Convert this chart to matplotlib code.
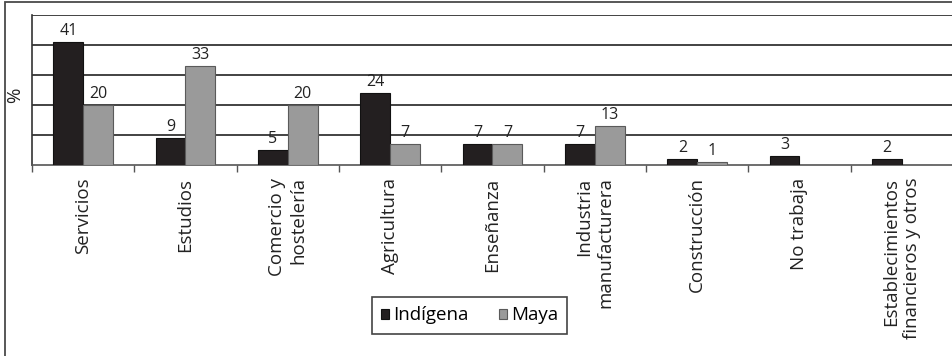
import matplotlib
matplotlib.use("Agg")
import matplotlib.pyplot as plt
from matplotlib.patches import Rectangle
import numpy as np

# Datos (%)
categorias = ["Servicios", "Estudios", "Comercio y\nhostelería", "Agricultura",
              "Enseñanza", "Industria\nmanufacturera", "Construcción",
              "No trabaja", "Establecimientos\nfinancieros y otros"]
indigena = [41, 9, 5, 24, 7, 7, 2, 3, 2]
maya = [20, 33, 20, 7, 7, 13, 1, 0, 0]

plt.rcParams['font.family'] = ['Open Sans', 'DejaVu Sans']

W, H = 953, 356
fig = plt.figure(figsize=(W / 100, H / 100), dpi=100)
fig.patch.set_facecolor('white')

# marco exterior
fig.patches.append(Rectangle((4.5 / W, -0.1), 1.2, 1.1 - 2 / H,
                             transform=fig.transFigure, fill=False,
                             edgecolor='#4a4a4a', linewidth=1.3, clip_on=False))

ax = fig.add_axes([32 / W, 1 - 165 / H, 921 / W, 150 / H])

x = np.arange(len(categorias))
w = 0.29
b1 = ax.bar(x - w / 2, indigena, w, color='#231f20', edgecolor='#111111',
            linewidth=0.8, label='Indígena', zorder=3)
b2 = ax.bar(x + w / 2, maya, w, color='#9a9a9a', edgecolor='#5a5a5a',
            linewidth=0.8, label='Maya', zorder=3)

ax.bar_label(b1, labels=[str(v) for v in indigena], padding=2, fontsize=11.5, color='#222222')
ax.bar_label(b2, labels=[str(v) if v > 0 else '' for v in maya], padding=2,
             fontsize=11.5, color='#222222')

ax.set_xlim(-0.5, len(categorias) - 0.5)
ax.set_ylim(0, 50)
ax.set_yticks([10, 20, 30, 40, 50])
ax.set_yticklabels([])
ax.tick_params(axis='y', length=0)
ax.yaxis.grid(True, color='#222222', linewidth=1.2)
ax.set_axisbelow(True)

ax.set_xticks(x)
ax.set_xticklabels(categorias, rotation=90, fontsize=13.5, va='top', ha='center',
                   multialignment='right', color='#222222')
ax.set_xticks(np.arange(len(categorias) + 1) - 0.5, minor=True)
ax.tick_params(axis='x', which='major', length=0, pad=9)
ax.tick_params(axis='x', which='minor', length=5, width=1, color='#555555', direction='out')

for s in ['top', 'right']:
    ax.spines[s].set_visible(False)
ax.spines['left'].set_color('#333333')
ax.spines['left'].set_linewidth(1.2)
ax.spines['bottom'].set_color('#555555')
ax.spines['bottom'].set_linewidth(1.2)

fig.text(15 / W, 1 - 95 / H, '%', rotation=90, ha='center', va='center',
         fontsize=13.5, color='#222222')

leg = fig.legend(handles=[b1, b2], loc='center',
                 bbox_to_anchor=(469.5 / W, 1 - 315.5 / H), ncol=2,
                 fontsize=13.5, frameon=True, fancybox=False, framealpha=1,
                 edgecolor='#444444', handlelength=0.45, handleheight=0.45,
                 handletextpad=0.2, columnspacing=1.6, borderpad=0.5)
leg.get_frame().set_linewidth(1.2)

fig.savefig('out.png', dpi=100)
